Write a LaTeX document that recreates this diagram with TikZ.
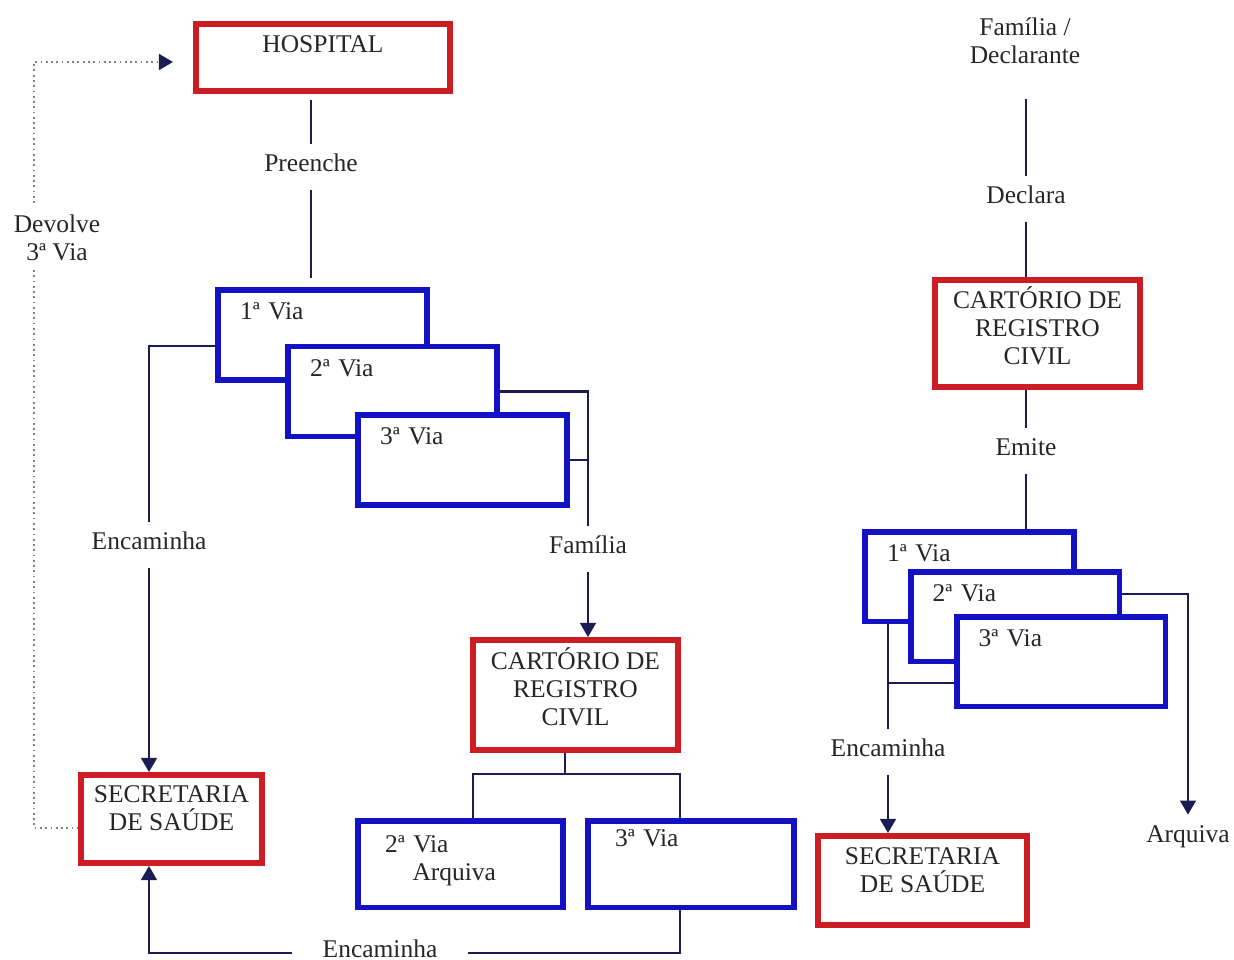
\documentclass[tikz,border=0pt]{standalone}
\usepackage{fontspec}
\setmainfont{Liberation Serif}
\usetikzlibrary{positioning,calc,arrows.meta}
\definecolor{boxred}{RGB}{204,28,36}
\definecolor{boxblue}{RGB}{18,18,196}
\definecolor{linknavy}{RGB}{28,28,84}
\tikzset{>={Triangle[length=8pt,width=9pt]}}
\tikzset{
  redbox/.style={draw=boxred,line width=3.4pt,align=center,fill=white,inner sep=2pt},
  viabox/.style={draw=boxblue,line width=3.4pt,align=left,fill=white,inner sep=2pt,
    minimum width=4.18cm,minimum height=1.8cm,text width=3.3cm,text depth=0.94cm},
  tag/.style={inner xsep=2pt,inner ysep=0.19cm,text height=10pt,text depth=0.19cm},
  link/.style={draw=linknavy,line width=1.2pt},
  arr/.style={link,->},
  dotlink/.style={draw=gray,dotted,line width=1pt,-{Triangle[length=8pt,width=9pt,color=linknavy]}}
}

\begin{document}
\begin{tikzpicture}[x=0.02cm,y=-0.02cm,font=\fontsize{14.5}{16}\selectfont,text=black!85]
\useasboundingbox (0,0) rectangle (1234,960);
% Hospital and its three copies
\node[redbox,minimum width=5.08cm,minimum height=1.34cm,text depth=0.53cm] (hosp) at (323,57.5) {HOSPITAL};
\node[tag] (pre) at (311,167) {Preenche};
\node[viabox] (v1) at (322.5,335) {1ª Via};
\node[viabox] (v2) at (392.5,391.5) {2ª Via};
\node[viabox] (v3) at (462.5,460) {3ª Via};
\draw[link,shorten <=0.12cm] (pre |- hosp.south) -- (pre);
\draw[link,shorten >=0.18cm] (pre) -- (pre |- v1.north);
% Secretaria (left) and the returned copy
\node[redbox,minimum width=3.62cm,minimum height=1.76cm,text depth=0.43cm] (sec1) at (171.5,819) {SECRETARIA\\DE SAÚDE};
\node[align=center] (dv) at (57,238) {Devolve\\3ª Via};
\coordinate (dtop) at (34,203);
\coordinate (dbot) at (34,270);
\draw[dotlink,shorten >=0.4cm] (dtop) |- ([yshift=-0.09cm]hosp.west);
\draw[dotlink,-] (dbot) |- ([yshift=-0.18cm]sec1.west);
\node[tag] (enc1) at (149,545) {Encaminha};
\draw[link] ([yshift=-0.22cm]v1.west) -| (enc1);
\draw[arr] (enc1) -- (enc1 |- sec1.north);
% Familia takes the copies to the cartorio
\node[tag] (fam) at (588,549) {Família};
\node[redbox,minimum width=4.1cm,minimum height=2.2cm,text depth=0.35cm] (cart1) at (575.5,695) {CARTÓRIO DE\\REGISTRO\\CIVIL};
\draw[link] (v2.east) -| (fam);
\draw[link] (v3.east) -- (v3.east -| fam);
\draw[arr] (fam) -- (fam |- cart1.north);
% Copies kept and sent back
\node[viabox,minimum width=4.1cm,minimum height=1.74cm,text width=3.02cm,inner sep=0pt,text depth=0.8cm] (b2) at (460.5,864) {2ª Via\\\hspace*{0.55cm}Arquiva};
\node[viabox,minimum width=4.12cm,minimum height=1.74cm,text width=3.04cm,text depth=1.03cm] (b3) at (691,864) {3ª Via};
\coordinate (bus) at (565,774);
\draw[link] (cart1.south -| bus) -- (bus);
\draw[link] ([xshift=0.25cm]b2.north) |- (bus) -| ([xshift=-0.22cm]b3.north);
\node[tag,inner xsep=0.6cm] (enc3) at (380,953) {Encaminha};
\draw[link] ([xshift=-0.22cm]b3.south) |- (enc3);
\draw[arr] (enc3) -| (enc1 |- sec1.south);
% Right side: declaration at the cartorio
\node[align=center] (fam2) at (1025,41) {Família /\\Declarante};
\node[tag] (decl) at (1026,199) {Declara};
\node[redbox,minimum width=4.1cm,minimum height=2.14cm,text depth=0.31cm] (cart2) at (1037.5,333.5) {CARTÓRIO DE\\REGISTRO\\CIVIL};
\node[tag] (emi) at (1026,451) {Emite};
\draw[link,shorten <=0.57cm] (decl |- fam2.south) -- (decl);
\draw[link] (decl) -- (decl |- cart2.north);
\node[viabox] (rv1) at (969.5,576.5) {1ª Via};
\node[viabox] (rv2) at (1015,616.5) {2ª Via};
\node[viabox] (rv3) at (1061,661.5) {3ª Via};
\draw[link] (emi |- cart2.south) -- (emi) -- (emi |- rv1.north);
% Right side: archive and secretaria
\node[tag] (arq) at (1188,838) {Arquiva};
\draw[arr] ([yshift=0.45cm]rv2.east) -| (arq);
\node[tag] (enc2) at (888,752) {Encaminha};
\node[redbox,minimum width=4.18cm,minimum height=1.78cm,text depth=0.41cm] (sec2) at (922.5,880.5) {SECRETARIA\\DE SAÚDE};
\draw[link] (enc2 |- rv1.south) -- (enc2);
\draw[link] ([yshift=-0.43cm]rv3.west) coordinate (j) -- (enc2 |- j);
\draw[arr] (enc2) -- (enc2 |- sec2.north);
\end{tikzpicture}
\end{document}
